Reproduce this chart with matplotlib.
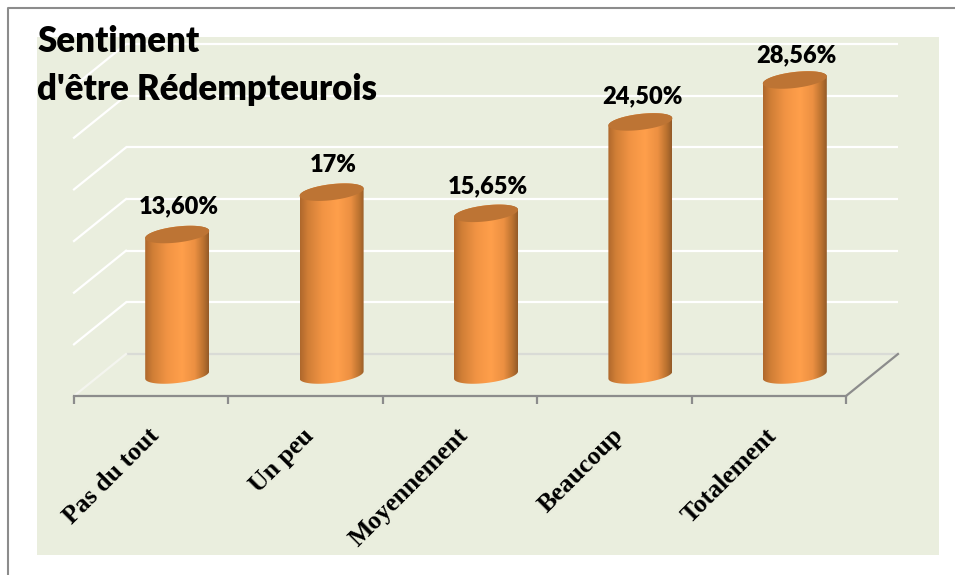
import matplotlib
matplotlib.use("Agg")
import matplotlib.pyplot as plt
from matplotlib.colors import LinearSegmentedColormap
from matplotlib.patches import Polygon, Rectangle
from matplotlib.lines import Line2D
import numpy as np

# === Donnees ===
categories = ["Pas du tout", "Un peu", "Moyennement", "Beaucoup", "Totalement"]
valeurs = [13.60, 17.7, 15.65, 24.50, 28.56]
etiquettes = ["13,60%", "17%", "15,65%", "24,50%", "28,56%"]
grille = [0, 5, 10, 15, 20, 25, 30]
titre = ["Sentiment", "d'être Rédempteurois"]

W, H = 955, 575
# plan median de la perspective : x=-0.5 -> 100 px, x=4.5 -> 872 px, y=0 -> 375 px
PX_X = 154.4
PX_Y = 10.33
X0 = -0.5 - 100 / PX_X
Y_BAS = -(H - 375) / PX_Y
Y_HAUT = 375 / PX_Y
DX = 26 / PX_X   # demi profondeur
DY = 21 / PX_Y
DEMI_L = 32 / PX_X
B = 8 / PX_Y
PENTE = 3.6 / PX_Y

fig = plt.figure(figsize=(W / 100, H / 100), dpi=100, facecolor="white")

def px_rect(x, y, w, h, **kw):
    fig.add_artist(Rectangle((x / W, 1 - (y + h) / H), w / W, h / H, transform=fig.transFigure, zorder=-2, **kw))

def px_line(xs, ys, **kw):
    fig.add_artist(Line2D([x / W for x in xs], [1 - y / H for y in ys], transform=fig.transFigure, zorder=-1, **kw))

px_rect(37, 37, 902, 518, facecolor="#EAEEDE", edgecolor="none")
px_line([7.5, 7.5, 955], [575, 8, 8], color="#8C8C8C", linewidth=1.5)

ax = fig.add_axes([0, 0, 1, 1])
ax.axis("off")
ax.patch.set_visible(False)

# Grille : fond + cote gauche
for g in grille:
    couleur = "#D9DBD6" if g == 0 else "white"
    ax.plot([-0.5 + DX, 4.5 + DX], [g + DY, g + DY], color=couleur, lw=1.6, solid_capstyle="butt", zorder=1)
    ax.plot([-0.5 - DX, -0.5 + DX], [g - DY, g + DY], color="white" if g else "#F4F5EF", lw=1.6, zorder=1)

# Sol : bord avant, graduations, cote droit
GRIS = "#8C8C8C"
ax.plot([-0.5 - DX, 4.5 - DX], [-DY, -DY], color=GRIS, lw=1.6, zorder=2)
ax.plot([4.5 - DX, 4.5 + DX], [-DY, DY], color=GRIS, lw=1.6, zorder=2)
for i in range(len(categories) + 1):
    ax.plot([i - 0.5 - DX] * 2, [-DY, -DY - 8 / PX_Y], color=GRIS, lw=1.6, solid_capstyle="butt", zorder=2)

# Cylindres
cmap = LinearSegmentedColormap.from_list("cyl", [
    (0.0, "#AE672C"), (0.12, "#D07E36"), (0.35, "#F29444"), (0.58, "#FF9F4B"),
    (0.78, "#EC9042"), (0.92, "#B9712F"), (1.0, "#935A28")])
degrade = np.linspace(0, 1, 256).reshape(1, -1)
t = np.linspace(0, 2 * np.pi, 121)

for i, v in enumerate(valeurs):
    bas = np.linspace(np.pi, 2 * np.pi, 60)
    haut = np.linspace(0, np.pi, 60)
    pts_bas = np.column_stack([i + DEMI_L * np.cos(bas), B * np.sin(bas) + PENTE * np.cos(bas)])
    pts_haut = np.column_stack([i + DEMI_L * np.cos(haut), v + B * np.sin(haut) + PENTE * np.cos(haut)])
    corps = Polygon(np.vstack([pts_bas, pts_haut]), closed=True, facecolor="none", edgecolor="none")
    ax.add_patch(corps)
    im = ax.imshow(degrade, extent=[i - DEMI_L, i + DEMI_L, -2, v + 2], aspect="auto", cmap=cmap, zorder=3)
    im.set_clip_path(corps)
    ax.fill(i + DEMI_L * np.cos(t), v + B * np.sin(t) + PENTE * np.cos(t), color="#BD7434", lw=0, zorder=4)
    ax.text(i + 2 / PX_X, 0.977 * v + 3.0, etiquettes[i], ha="center", va="center",
            fontsize=17, fontweight="heavy", family="Lato", color="black", zorder=5)
    ax.text(i - 0.19, -DY - 28 / PX_Y, categories[i], rotation=45, rotation_mode="anchor", ha="right", va="top",
            fontsize=18.5, fontweight="bold", family="Liberation Serif", color="black", zorder=5)

# Limites remises apres imshow
ax.set_xlim(X0, X0 + W / PX_X)
ax.set_ylim(Y_BAS, Y_HAUT)

fig.text(37 / W, 1 - 42 / H, titre[0], ha="left", va="center", fontsize=25, fontweight="heavy", family="Lato", color="black")
fig.text(37 / W, 1 - 89 / H, titre[1], ha="left", va="center", fontsize=25, fontweight="heavy", family="Lato", color="black")

fig.savefig("out.png", dpi=100)
